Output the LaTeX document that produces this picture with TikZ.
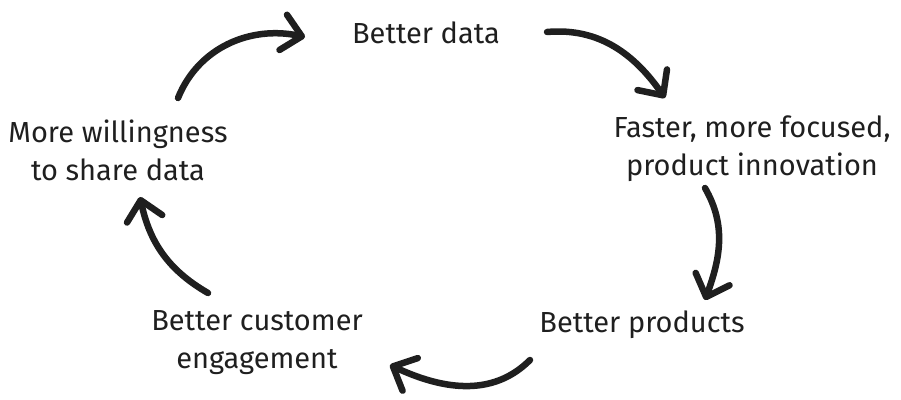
\documentclass[tikz,border=0pt]{standalone}
\usepackage{fontspec}
\setmainfont{Fira Sans}
\usetikzlibrary{arrows.meta}
\begin{document}
\begin{tikzpicture}[x=1pt,y=1pt,
  lbl/.style={font=\fontsize{29}{38}\selectfont, align=center, text=black!88, inner sep=0pt},
  cyc/.style={line width=6.5pt, line cap=round, black!88, -{Straight Barb[length=19pt,width=36pt,round]}}]
\useasboundingbox (0,0) rectangle (901,399);
\node[lbl] (data) at (426,366) {Better data};
\node[lbl] (faster) at (752,250) {Faster, more focused,\\product innovation};
\node[lbl] (prod) at (642,74) {Better products};
\node[lbl] (cust) at (257,56) {Better customer\\engagement};
\node[lbl] (will) at (118,249) {More willingness\\to share data};
\coordinate (a1s) at (178,301); \coordinate (a1e) at (305,362);
\coordinate (a2s) at (547,367); \coordinate (a2e) at (665,301);
\coordinate (a3s) at (705,211); \coordinate (a3e) at (705,99);
\coordinate (a4s) at (530,39);  \coordinate (a4e) at (390,34);
\coordinate (a5s) at (208,106); \coordinate (a5e) at (140,202);
\draw[cyc] (a1s) to[out=68,in=168] (a1e);
\draw[cyc] (a2s) to[out=5,in=125] (a2e);
\draw[cyc] (a3s) to[out=-60,in=70] (a3e);
\draw[cyc] (a4s) to[out=225,in=-25] (a4e);
\draw[cyc] (a5s) to[out=150,in=-78] (a5e);
\end{tikzpicture}
\end{document}
